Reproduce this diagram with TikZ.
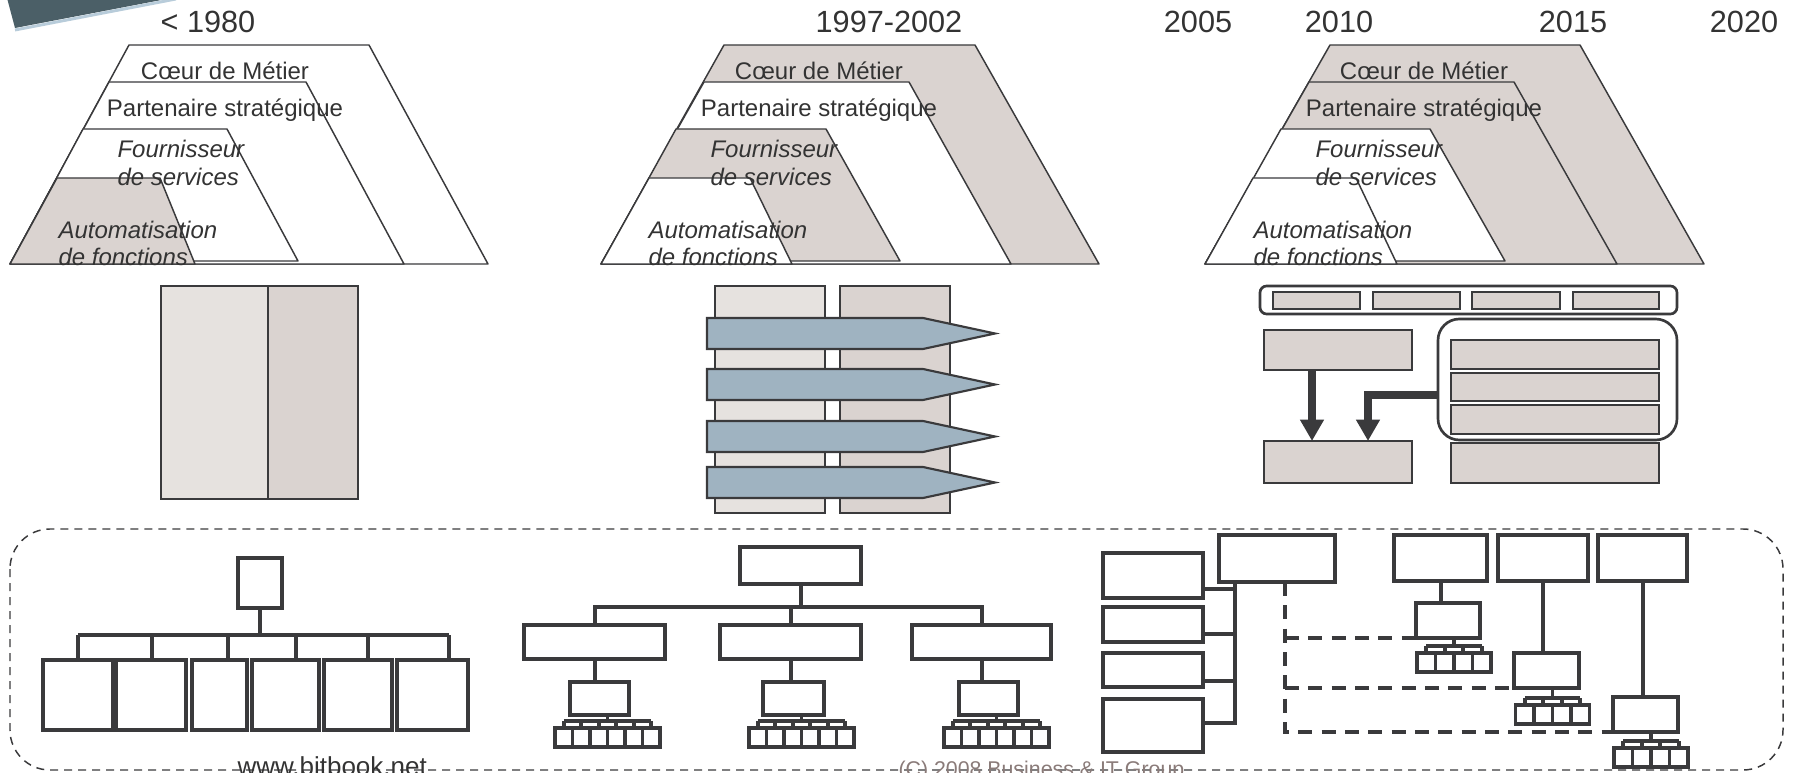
\documentclass[tikz,border=0pt]{standalone}
\usepackage{fontspec}
\setmainfont{Liberation Sans}
\usetikzlibrary{fit,arrows.meta}

\definecolor{ink}{RGB}{58,58,60}
\definecolor{txt}{RGB}{51,51,51}
\definecolor{shade}{RGB}{218,211,208}
\definecolor{pale}{RGB}{230,226,223}
\definecolor{steel}{RGB}{159,179,193}
\definecolor{slate}{RGB}{75,95,103}
\definecolor{sky}{RGB}{184,204,218}
\definecolor{note}{RGB}{138,123,121}

\tikzset{every picture/.style={line width=0.75pt}}
\tikzset{
  layer/.style={draw=ink, line width=1.1pt, line join=round},
  lbl/.style={inner sep=0pt, text=txt, anchor=base, font=\fontsize{18}{21}\selectfont},
  itl/.style={inner sep=0pt, text=txt, anchor=base west, font=\fontsize{18}{21}\selectfont\itshape},
  yr/.style={inner sep=0pt, text=txt, anchor=base, font=\fontsize{23}{26}\selectfont},
  col/.style={draw=ink, line width=1.6pt, inner sep=0pt, outer sep=0pt},
  band/.style={draw=ink, fill=steel, line width=1.6pt},
  blk/.style={draw=ink, line width=3pt, inner sep=0pt, outer sep=0pt},
  wire/.style={draw=ink, line width=3pt},
  dwire/.style={draw=ink, line width=3pt, dash pattern=on 10.5pt off 7pt},
  kb/.style={draw=ink, line width=2.8pt},
  fat/.style={draw=ink, line width=5.5pt, -{Triangle[width=17pt,length=16pt]}},
}

% small keyboard: centre x, bus y, cells, cell width, box above
\newcommand{\kbd}[5]{%
  \pgfmathsetmacro{\kl}{#1-#3*#4/2}
  \draw[kb] (#5.south -| #1,0) -- (#1,#2);
  \draw[kb] (\kl+#4/2,#2) -- (\kl+#3*#4-#4/2,#2);
  \foreach \k in {1,...,#3}{
    \draw[kb] (\kl+\k*#4-#4/2,#2) -- ++(0,7);
    \draw[kb] (\kl+\k*#4-#4,#2+7) rectangle ++(#4,19);
  }
}

\begin{document}
\begin{tikzpicture}[x=0.75pt,y=0.75pt,yscale=-1,xscale=1]
	\useasboundingbox (0,0) rectangle (1793,773);
	
	% corner band
	\fill[slate] (7,-2) -- (15,28) -- (172,-2) -- cycle;
	\draw[sky, line width=2.2pt] (15,30) -- (176,-1);
	
	% years
	\node[yr] (y1980) at (208,33) {< 1980};
	\node[yr] (y1997) at (889,33) {1997-2002};
	\node[yr] (y2005) at (1198,33) {2005};
	\node[yr] (y2010) at (1339,33) {2010};
	\node[yr] (y2015) at (1573,33) {2015};
	\node[yr] (y2020) at (1744,33) {2020};
	
	% layers, first period
	\draw[layer, fill=white] (129,45) -- (369,45) -- (488,264) -- (10,264) -- cycle;
	\draw[layer, fill=white] (109,82) -- (306,82) -- (404,264) -- (10,264) -- cycle;
	\draw[layer, fill=white] (83,129) -- (227,129) -- (298,261) -- (12,261) -- cycle;
	\draw[layer, fill=shade] (57,178) -- (160,178) -- (195,264) -- (10,264) -- cycle;
	
	% layers, second period
	\draw[layer, fill=shade] (724,45) -- (975,45) -- (1099,264) -- (601,264) -- cycle;
	\draw[layer, fill=white] (704,82) -- (909,82) -- (1011,264) -- (601,264) -- cycle;
	\draw[layer, fill=shade] (676,129) -- (826,129) -- (900,261) -- (603,261) -- cycle;
	\draw[layer, fill=white] (649,178) -- (750,178) -- (792,264) -- (601,264) -- cycle;
	
	% layers, third period
	\draw[layer, fill=shade] (1330,45) -- (1580,45) -- (1704,264) -- (1205,264) -- cycle;
	\draw[layer, fill=shade] (1309,82) -- (1514,82) -- (1617,264) -- (1205,264) -- cycle;
	\draw[layer, fill=white] (1281,129) -- (1430,129) -- (1505,261) -- (1207,261) -- cycle;
	\draw[layer, fill=white] (1253,178) -- (1356,178) -- (1397,264) -- (1205,264) -- cycle;
	
	\foreach \p/\c/\f/\a in {A/225/117/58, B/819/710/648, C/1424/1315/1253}{
		\node[lbl] (coeur\p) at (\c,80) {Cœur de Métier};
		\node[lbl] (part\p) at (\c,117) {Partenaire stratégique};
		\node[itl] (four\p) at (\f,158) {Fournisseur};
		\node[itl] (serv\p) at (\f,186) {de services};
		\node[itl] (auto\p) at (\a,239) {Automatisation};
		\node[itl] (fonc\p) at (\a,266) {de fonctions};
	}
	
	% applications, first period
	\node[col, fill=pale, fit={(161,286) (268,499)}] (oldL) {};
	\node[col, fill=shade, fit={(268,286) (358,499)}] (oldR) {};
	
	% applications, second period
	\node[col, fill=pale, fit={(715,286) (825,513)}] (colL) {};
	\node[col, fill=shade, fit={(840,286) (950,513)}] (colR) {};
	\foreach \t in {318,369,421,467}
		\draw[band] (707,\t) -- (923,\t) -- (995,\t+15.5) -- (923,\t+31) -- (707,\t+31) -- cycle;
	
	% applications, third period
	\node[col, line width=2pt, rounded corners=5pt, fit={(1260,286) (1677,314)}] (bar) {};
	\foreach \a/\b [count=\i] in {1273/1360,1373/1460,1472/1560,1573/1659}
		\node[col, fill=shade, fit={(\a,292) (\b,309)}] (mod\i) {};
	\node[col, fill=shade, fit={(1264,330) (1412,370)}] (src) {};
	\node[col, fill=shade, fit={(1264,441) (1412,483)}] (dst) {};
	\node[col, line width=2pt, rounded corners=16pt, fit={(1438,319) (1677,440)}] (grp) {};
	\node[col, fill=shade, fit={(1451,340) (1659,369)}] (lay1) {};
	\node[col, fill=shade, fit={(1451,373) (1659,401)}] (lay2) {};
	\node[col, fill=shade, fit={(1451,405) (1659,434)}] (lay3) {};
	\node[col, fill=shade, fit={(1451,443) (1659,483)}] (base) {};
	\draw[fat] (src.south -| 1312,0) -- (dst.north -| 1312,0);
	\draw[fat] (grp.west |- 0,395) -| (dst.north -| 1368,0);
	
	% infrastructure frame
	\draw[ink, line width=1.1pt, dash pattern=on 6pt off 4.5pt, rounded corners=30pt] (10,529) rectangle (1783,770);
	
	% mainframe
	\node[blk, fit={(238,558) (282,608)}] (root) {};
	\foreach \a/\b [count=\i] in {43/113,116/186,192/247,252/319,324/392,397/468}
		\node[blk, fit={(\a,660) (\b,730)}] (leaf\i) {};
	\coordinate (busA) at (260,635);
	\draw[wire] (root) -- (busA);
	\draw[wire] (busA -| 78,0) -- (busA -| 449,0);
	\foreach \i/\x in {1/78,2/152,3/228,4/296,5/368,6/449}
		\draw[wire] (busA -| \x,0) -- (leaf\i.north -| \x,0);
	
	% client server
	\node[blk, fit={(740,547) (861,584)}] (hub) {};
	\foreach \a/\b [count=\i] in {524/665,720/861,912/1051}
		\node[blk, fit={(\a,625) (\b,659)}] (mid\i) {};
	\foreach \a/\b [count=\i] in {570/629,763/824,959/1018}
		\node[blk, fit={(\a,682) (\b,715)}] (dev\i) {};
	\coordinate (busB) at (hub.south |- 0,607);
	\draw[wire] (hub.south) -- (busB);
	\draw[wire] (mid1.north) |- (busB) -| (mid3.north);
	\draw[wire] (mid2.north) -- (mid2.north |- busB);
	\foreach \i in {1,2,3}
		\draw[wire] (mid\i.south) -- (mid\i.south |- dev\i.north);
	\kbd{607.5}{721}{6}{17.5}{dev1}
	\kbd{801.5}{721}{6}{17.5}{dev2}
	\kbd{996.5}{721}{6}{17.5}{dev3}
	
	% services
	\node[blk, fit={(1103,553) (1203,598)}] (app1) {};
	\node[blk, fit={(1103,607) (1203,642)}] (app2) {};
	\node[blk, fit={(1103,653) (1203,687)}] (app3) {};
	\node[blk, fit={(1103,699) (1203,752)}] (app4) {};
	\node[blk, fit={(1219,535) (1335,582)}] (core) {};
	\coordinate (spine) at (1235,582);
	\foreach \i/\y in {1/589,2/634,3/681,4/723}
		\draw[wire] (app\i.east |- 0,\y) -| (spine);
	\foreach \a/\b [count=\i] in {1394/1487,1498/1588,1598/1687}
		\node[blk, fit={(\a,535) (\b,581)}] (srv\i) {};
	\node[blk, fit={(1416,603) (1480,638)}] (loc1) {};
	\node[blk, fit={(1514,653) (1579,688)}] (loc2) {};
	\node[blk, fit={(1613,697) (1678,732)}] (loc3) {};
	\foreach \i in {1,2,3}
		\draw[wire] (srv\i.south) -- (srv\i.south |- loc\i.north);
	\kbd{1454}{646}{4}{18.5}{loc1}
	\kbd{1552.5}{698}{4}{18.5}{loc2}
	\kbd{1651}{741}{4}{18.5}{loc3}
	\coordinate (tap) at (1285,582);
	\draw[dwire] (tap) |- (loc3.south west);
	\draw[dwire] (tap |- loc1.south west) -- (loc1.south west);
	\draw[dwire] (tap |- loc2.south west) -- (loc2.south west);
	
	% footer
	\node[inner sep=0pt, anchor=base west, text=txt, font=\fontsize{19.5}{22}\selectfont] (web) at (237,775) {www.bitbook.net};
	\node[inner sep=0pt, anchor=base west, text=note, font=\fontsize{16}{18}\selectfont] (copy) at (898,776) {(C) 2008 Business \& IT Group};
\end{tikzpicture}
\end{document}
